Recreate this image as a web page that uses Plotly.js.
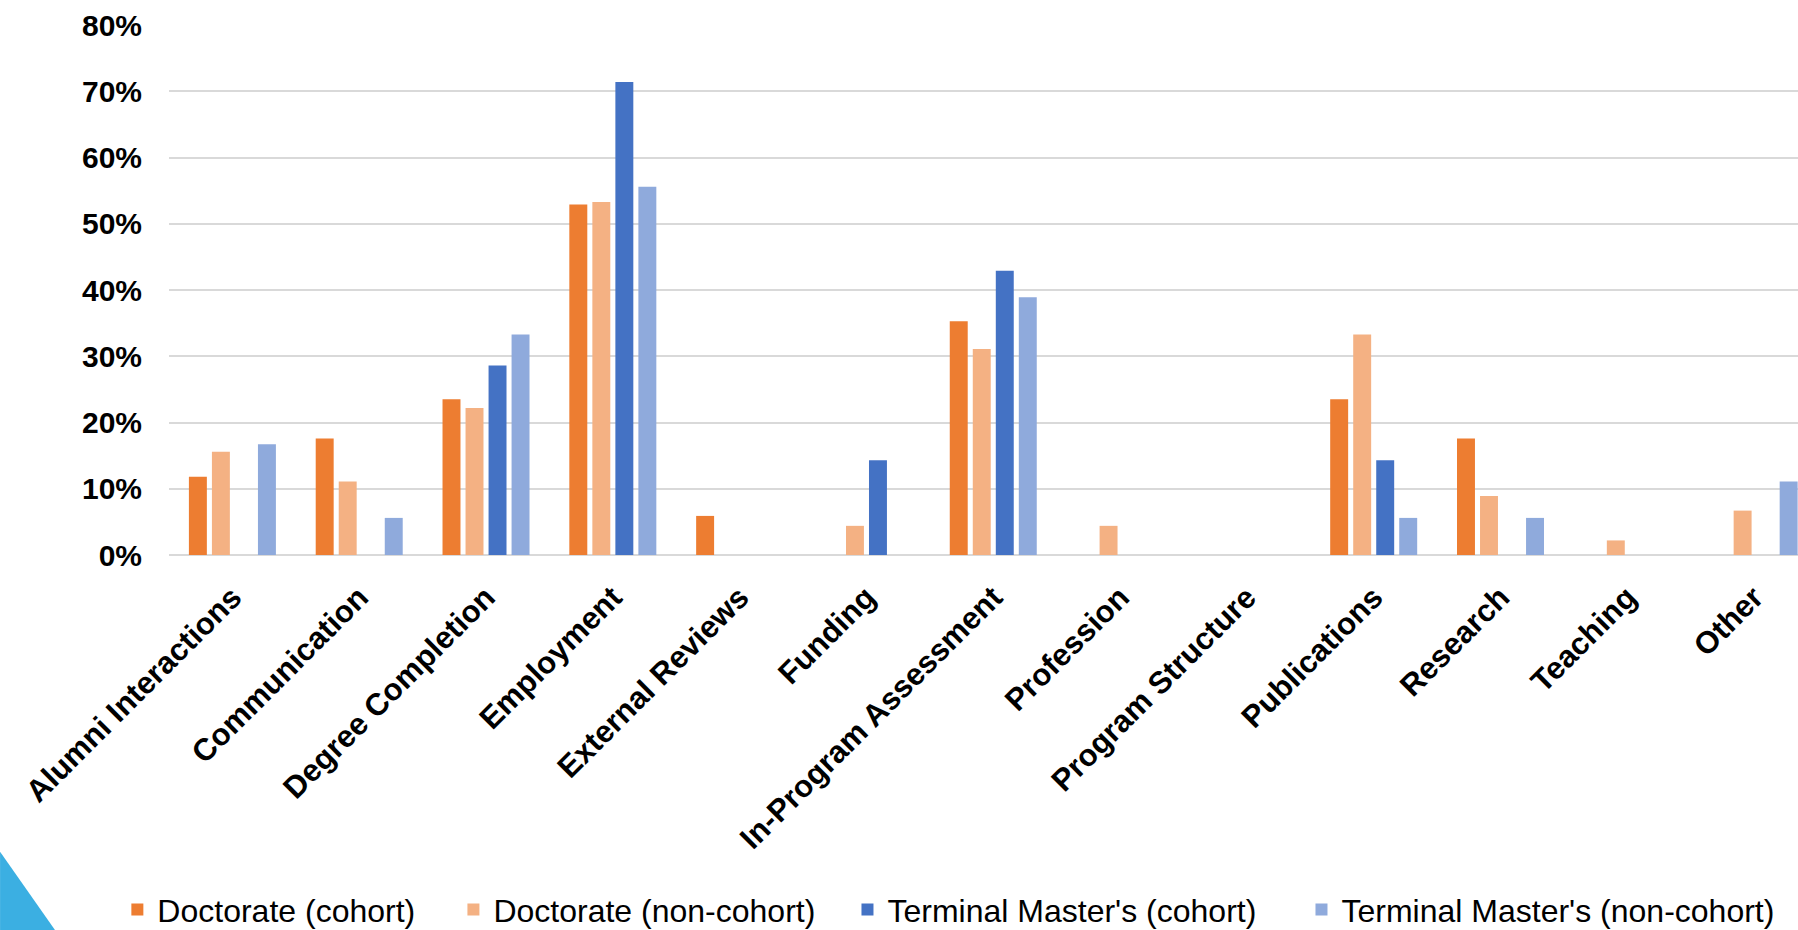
<!DOCTYPE html>
<html>
<head>
<meta charset="utf-8">
<script src="https://cdn.plot.ly/plotly-3.0.1.min.js"></script>
<style>
  html, body { margin: 0; padding: 0; background: #ffffff; overflow: hidden; }
  #chart { width: 1798px; height: 930px; }
</style>
</head>
<body>
<div id="chart"></div>
<script>
const categories = [
  "Alumni Interactions", "Communication", "Degree Completion", "Employment",
  "External Reviews", "Funding", "In-Program Assessment", "Profession",
  "Program Structure", "Publications", "Research", "Teaching", "Other"
];
const seriesNames = [
  "Doctorate (cohort)", "Doctorate (non-cohort)",
  "Terminal Master's (cohort)", "Terminal Master's (non-cohort)"
];
const doctorateCohort     = [11.8, 17.6, 23.5, 52.9, 5.9, 0, 35.3, 0, 0, 23.5, 17.6, 0, 0];
const doctorateNonCohort  = [15.6, 11.1, 22.2, 53.3, 0, 4.4, 31.1, 4.4, 0, 33.3, 8.9, 2.2, 6.7];
const mastersCohort       = [0, 0, 28.6, 71.4, 0, 14.3, 42.9, 0, 0, 14.3, 0, 0, 0];
const mastersNonCohort    = [16.7, 5.6, 33.3, 55.6, 0, 0, 38.9, 0, 0, 5.6, 5.6, 0, 11.1];
const yTickValues = [0, 10, 20, 30, 40, 50, 60, 70, 80];
const yTickLabels = ["0%", "10%", "20%", "30%", "40%", "50%", "60%", "70%", "80%"];

const colors = ["#ED7D31", "#F4B183", "#4472C4", "#8FAADC"];
const allSeries = [doctorateCohort, doctorateNonCohort, mastersCohort, mastersNonCohort];
const legendIds = ["legend", "legend2", "legend3", "legend4"];
const legendX = [-0.0317, 0.1746, 0.4165, 0.6952];

const traces = allSeries.map((vals, i) => ({
  type: "bar",
  name: seriesNames[i],
  x: categories,
  y: vals,
  legend: legendIds[i],
  marker: { color: colors[i] },
  hoverinfo: "x+y+name"
}));

const FONT = "Arial, 'Liberation Sans', sans-serif";

const layout = {
  width: 1798,
  height: 930,
  margin: { l: 169, r: 0, t: 25, b: 375, autoexpand: false },
  paper_bgcolor: "#ffffff",
  plot_bgcolor: "#ffffff",
  font: { family: FONT, color: "#000000" },
  barmode: "group",
  bargap: 0.274,
  bargroupgap: 0.22,
  xaxis: {
    type: "category",
    range: [-0.5, 12.346],
    tickangle: -45,
    tickfont: { size: 31, family: FONT, weight: "bold", color: "#000000" },
    showgrid: false,
    showline: false,
    zeroline: false,
    ticks: "",
    ticklabelstandoff: 17,
    automargin: false,
    fixedrange: true
  },
  yaxis: {
    range: [0, 80],
    tickmode: "array",
    tickvals: yTickValues,
    ticktext: yTickLabels,
    tickfont: { size: 30, family: FONT, weight: "bold", color: "#000000" },
    showgrid: true,
    gridcolor: "#D9D9D9",
    gridwidth: 2,
    zeroline: true,
    zerolinecolor: "#D9D9D9",
    zerolinewidth: 2,
    showline: false,
    ticks: "",
    ticklabelstandoff: 26,
    automargin: false,
    fixedrange: true
  },
  showlegend: true,
  shapes: [
    {
      type: "path",
      xref: "paper",
      yref: "paper",
      path: "M -0.1037,-0.5600 L -0.0700,-0.7075 L -0.1037,-0.7075 Z",
      fillcolor: "#3BAFE2",
      line: { width: 0 },
      layer: "above"
    }
  ]
};

legendIds.forEach((id, i) => {
  layout[id] = {
    orientation: "h",
    x: legendX[i],
    xanchor: "left",
    y: -0.6173,
    yanchor: "top",
    font: { size: 32, family: FONT, color: "#000000" },
    bgcolor: "rgba(0,0,0,0)",
    itemclick: false,
    itemdoubleclick: false
  };
});

Plotly.newPlot("chart", traces, layout, { displayModeBar: false, staticPlot: true });
</script>
</body>
</html>
